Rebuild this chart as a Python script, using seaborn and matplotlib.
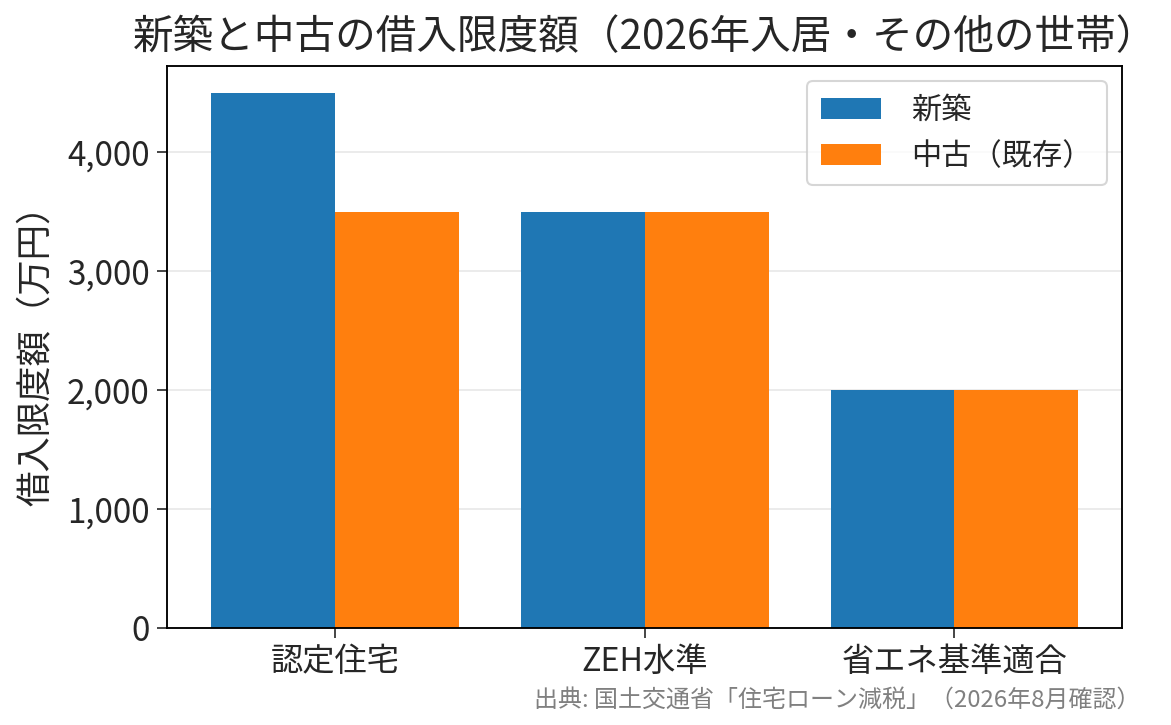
import matplotlib
matplotlib.use('Agg')
import matplotlib.pyplot as plt
import matplotlib.ticker as mticker
import seaborn as sns
import pandas as pd

# data
categories = ['認定住宅', 'ZEH水準', '省エネ基準適合']
new_limit = [4500, 3500, 2000]
used_limit = [3500, 3500, 2000]
series_names = ['新築', '中古（既存）']

df = pd.DataFrame({
    'category': categories * 2,
    'limit': new_limit + used_limit,
    'type': [series_names[0]] * 3 + [series_names[1]] * 3,
})

sns.set_style('white')
plt.rcParams['font.family'] = ['Noto Sans CJK JP', 'DejaVu Sans']

fig, ax = plt.subplots(figsize=(1171 / 150, 725 / 150), dpi=150)
fig.subplots_adjust(left=0.143, right=0.958, top=0.909, bottom=0.134)

sns.barplot(data=df, x='category', y='limit', hue='type',
            palette=['#1f77b4', '#ff7f0e'], saturation=1, ax=ax, width=0.8,
            linewidth=0, edgecolor='none')

ax.set_xlim(-0.54, 2.54)
ax.set_title('新築と中古の借入限度額（2026年入居・その他の世帯）', fontsize=19.5, pad=8)
ax.set_xlabel('')
ax.set_ylabel('借入限度額（万円）', fontsize=17, labelpad=6)
ax.tick_params(axis='y', labelsize=16, length=5, left=True)
ax.tick_params(axis='x', labelsize=15.5, length=5, bottom=True)
ax.yaxis.set_major_formatter(mticker.FuncFormatter(lambda v, p: f'{int(v):,}'))
ax.yaxis.grid(True, color='#b0b0b0', alpha=0.3)
ax.set_axisbelow(True)
for s in ax.spines.values():
    s.set_visible(True)
    s.set_color('black')
    s.set_linewidth(0.9)

ax.legend(loc='upper right', fontsize=14.5, handletextpad=1.0, borderpad=0.45)

fig.text(0.974, 0.018, '出典: 国土交通省「住宅ローン減税」（2026年8月確認）',
         ha='right', va='bottom', fontsize=11.5, color='gray')

fig.savefig('out.png', dpi=150)
